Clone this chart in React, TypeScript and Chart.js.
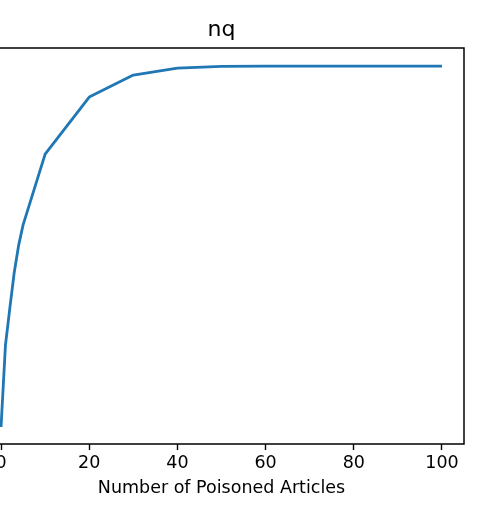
import React, { useEffect, useRef } from "react";
import { Chart, registerables } from "chart.js";

Chart.register(...registerables);

const articles = [0, 1, 2, 3, 4, 5, 10, 20, 30, 40, 50, 60, 70, 80, 90, 100];
const successRate = [0.0, 0.227, 0.33, 0.429, 0.504, 0.56, 0.756, 0.914, 0.975, 0.994, 0.999, 1.0, 1.0, 1.0, 1.0, 1.0];
const xTicks = [0, 20, 40, 60, 80, 100];
const titleText = "nq";
const xLabel = "Number of Poisoned Articles";

const FONT = "'DejaVu Sans', sans-serif";

const frame = {
  id: "frame",
  afterDraw(chart: any) {
    const { ctx, chartArea } = chart;
    ctx.save();
    ctx.strokeStyle = "#000";
    ctx.lineWidth = 1.5;
    ctx.strokeRect(chartArea.left, chartArea.top, chartArea.right - chartArea.left, chartArea.bottom - chartArea.top);
    ctx.restore();
  },
};

export default function App() {
  const ref = useRef<HTMLCanvasElement | null>(null);
  useEffect(() => {
    if (!ref.current) return;
    const chart = new Chart(ref.current, {
      type: "line",
      data: {
        datasets: [
          {
            data: articles.map((a, i) => ({ x: a, y: successRate[i] })),
            borderColor: "#1f77b4",
            borderWidth: 2.8,
            pointRadius: 0,
            tension: 0,
            fill: false,
            borderJoinStyle: "round",
            borderCapStyle: "butt",
          },
        ],
      },
      options: {
        animation: false,
        responsive: false,
        events: [],
        layout: { padding: { left: 39, right: 39, top: 0, bottom: 0 } },
        plugins: {
          legend: { display: false },
          tooltip: { enabled: false },
          title: {
            display: true,
            text: titleText,
            color: "#000",
            font: { family: FONT, size: 22, weight: "normal", lineHeight: 1.2 },
            padding: { top: 17, bottom: 4.6 },
          },
        },
        scales: {
          x: {
            type: "linear",
            min: -5,
            max: 105,
            afterBuildTicks: (axis: any) => {
              axis.ticks = xTicks.map((v) => ({ value: v }));
            },
            afterFit: (s: any) => {
              s.height = 76;
            },
            border: { display: false },
            grid: {
              drawOnChartArea: false,
              drawTicks: true,
              tickLength: 6,
              tickColor: "#000",
              tickWidth: 1.4,
            },
            ticks: {
              color: "#000",
              font: { family: FONT, size: 17.5 },
              padding: 3,
              maxRotation: 0,
              autoSkip: false,
            },
            title: {
              display: true,
              text: xLabel,
              color: "#000",
              font: { family: FONT, size: 17.5, lineHeight: 1.2 },
              padding: { top: 0, bottom: 21.5 },
            },
          },
          y: {
            type: "linear",
            display: false,
            min: -0.047,
            max: 1.05,
          },
        },
      },
      plugins: [frame],
    });
    return () => chart.destroy();
  }, []);

  return (
    <div style={{ position: "fixed", left: 0, top: 0, width: 484, height: 520, overflow: "hidden", background: "#fff" }}>
      <canvas ref={ref} width={563} height={520} style={{ position: "absolute", left: -60, top: 0, width: 563, height: 520 }} />
    </div>
  );
}
